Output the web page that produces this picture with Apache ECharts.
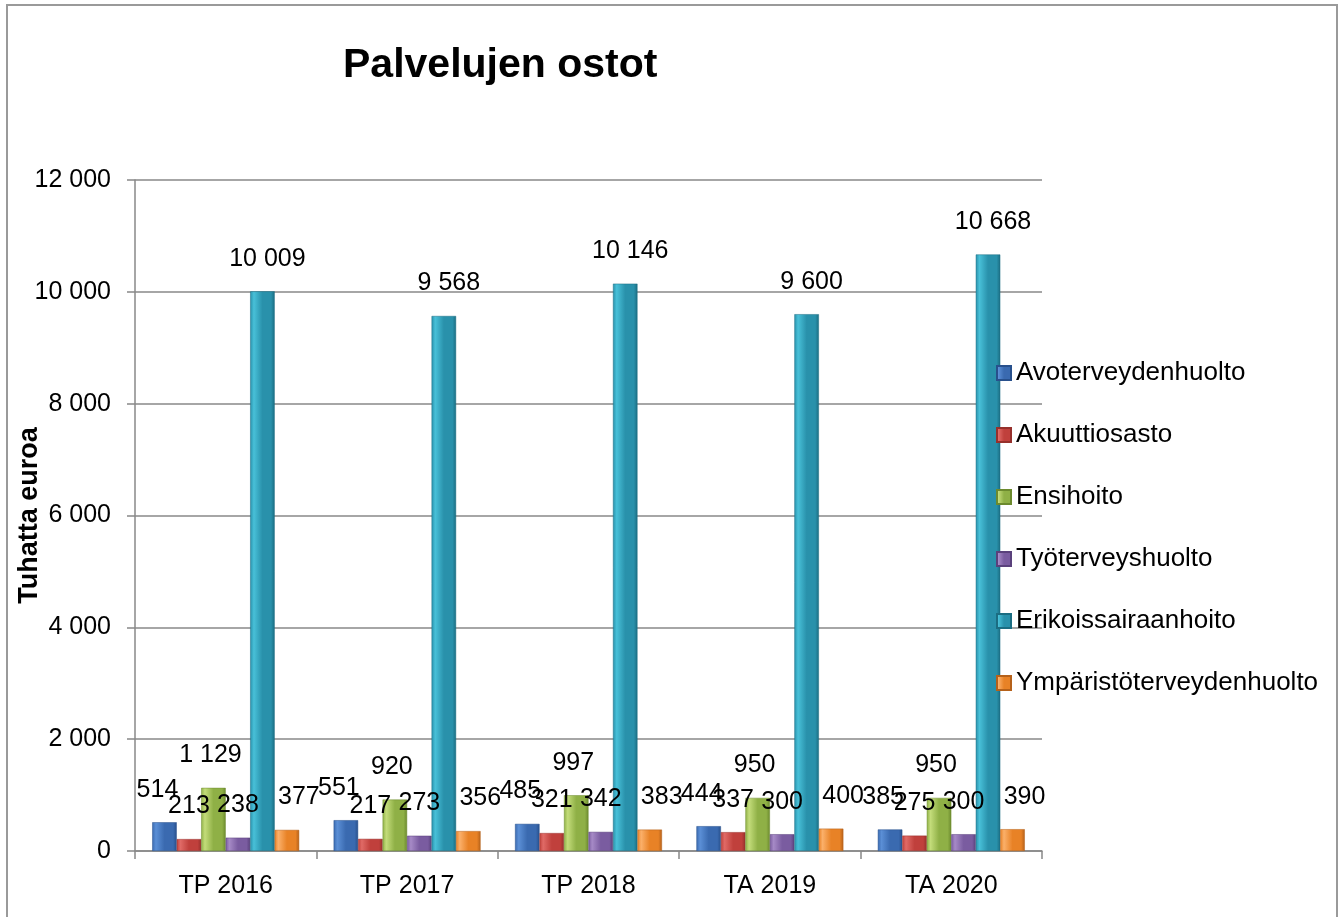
<!DOCTYPE html>
<html>
<head>
<meta charset="utf-8">
<script src="https://cdn.jsdelivr.net/npm/echarts@6/dist/echarts.min.js"></script>
<style>
  html, body { margin: 0; padding: 0; background: #fff; }
  #chart { width: 1344px; height: 917px; }
</style>
</head>
<body>
<div id="chart"></div>
<script>
const categories = ['TP 2016', 'TP 2017', 'TP 2018', 'TA 2019', 'TA 2020']
const seriesNames = ['Avoterveydenhuolto', 'Akuuttiosasto', 'Ensihoito',
  'Työterveyshuolto', 'Erikoissairaanhoito', 'Ympäristöterveydenhuolto']
const avoterveydenhuolto = [514, 551, 485, 444, 385]
const akuuttiosasto = [213, 217, 321, 337, 275]
const ensihoito = [1129, 920, 997, 950, 950]
const tyoterveyshuolto = [238, 273, 342, 300, 300]
const erikoissairaanhoito = [10009, 9568, 10146, 9600, 10668]
const ymparistoterveydenhuolto = [377, 356, 383, 400, 390]
const seriesValues = [avoterveydenhuolto, akuuttiosasto, ensihoito,
  tyoterveyshuolto, erikoissairaanhoito, ymparistoterveydenhuolto]

// [light, mid, dark] per series, to fake the excel bevel look
const palette = [
  ['#5b8fd6', '#3a6ab0', '#28508c'],
  ['#e06a66', '#c0403c', '#96302c'],
  ['#c3dc7a', '#8fb046', '#6c8a2e'],
  ['#a68ac6', '#7a5ca0', '#5a417c'],
  ['#48c0d8', '#2991ab', '#1b6d82'],
  ['#fbb06a', '#e88226', '#b5611a']
]
// labels sit a bit off-centre like in the excel original
const labelShift = [-7, 0, -3, 0, 5, 12]

const FONT = 'Liberation Sans, Arial, sans-serif'

function fmt(v) {
  return String(v).replace(/\B(?=(\d{3})+(?!\d))/g, ' ')
}

function barColor(c) {
  return new echarts.graphic.LinearGradient(0, 0, 1, 0, [
    {offset: 0, color: c[1]},
    {offset: 0.15, color: c[0]},
    {offset: 0.5, color: c[1]},
    {offset: 0.85, color: c[1]},
    {offset: 1, color: c[2]}
  ])
}

const series = seriesNames.map((name, i) => ({
  name: name,
  type: 'bar',
  data: seriesValues[i],
  barGap: '0%',
  barCategoryGap: '19%',
  itemStyle: {
    color: barColor(palette[i]),
    borderColor: palette[i][2],
    borderWidth: 0.5
  },
  label: {
    show: true,
    position: 'top',
    distance: 20,
    offset: [labelShift[i], 0],
    color: '#000',
    fontSize: 25,
    fontFamily: FONT,
    formatter: p => fmt(p.value)
  }
}))

const chart = echarts.init(document.getElementById('chart'))
chart.setOption({
  backgroundColor: '#fff',
  animation: false,
  graphic: [{
    type: 'rect',
    shape: {x: 7, y: 5, width: 1330, height: 930},
    style: {fill: 'none', stroke: '#9a9a9a', lineWidth: 2},
    silent: true
  }],
  title: {
    text: 'Palvelujen ostot',
    left: 338,
    top: 40,
    textStyle: {
      color: '#000',
      fontSize: 41,
      fontWeight: 'bold',
      fontFamily: FONT
    }
  },
  legend: {
    orient: 'vertical',
    left: 991,
    top: 355,
    itemWidth: 14,
    itemHeight: 14,
    itemGap: 36,
    icon: 'rect',
    data: seriesNames.map((n, i) => ({name: n, itemStyle: {color: barColor(palette[i])}})),
    textStyle: {
      color: '#000',
      fontSize: 26,
      padding: [0, 0, 0, 0],
      fontFamily: FONT
    }
  },
  grid: {
    left: 135,
    top: 180,
    width: 907,
    height: 671,
    containLabel: false,
    outerBoundsMode: 'none'
  },
  xAxis: {
    type: 'category',
    data: categories,
    axisLine: {lineStyle: {color: '#888', width: 1.5}},
    axisTick: {show: true, length: 8, lineStyle: {color: '#888', width: 1.5}},
    axisLabel: {
      color: '#000',
      fontSize: 25,
      margin: 23,
      fontFamily: FONT
    }
  },
  yAxis: {
    type: 'value',
    min: 0,
    max: 12000,
    interval: 2000,
    name: 'Tuhatta euroa',
    nameLocation: 'middle',
    nameGap: 92,
    nameMoveOverlap: false,
    nameTextStyle: {
      color: '#000',
      fontSize: 27,
      fontWeight: 'bold',
      fontFamily: FONT
    },
    axisLine: {show: true, lineStyle: {color: '#888', width: 1.5}},
    axisTick: {show: true, length: 8, lineStyle: {color: '#888', width: 1.5}},
    splitLine: {lineStyle: {color: '#888', width: 1.5}},
    axisLabel: {
      color: '#000',
      fontSize: 25,
      margin: 24,
      formatter: v => fmt(v),
      fontFamily: FONT
    }
  },
  series: series
})
</script>
</body>
</html>
